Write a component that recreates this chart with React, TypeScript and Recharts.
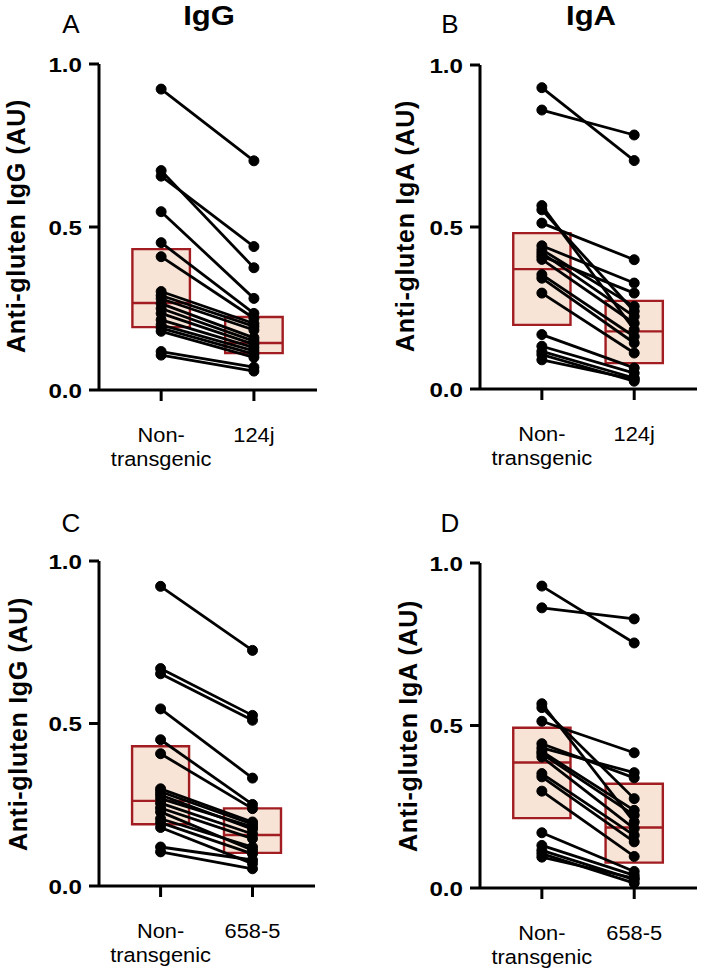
import React from 'react';
import { ComposedChart, Line, XAxis, YAxis, ReferenceArea, ReferenceLine } from 'recharts';

// category names
const topCategories = ['Non-transgenic', '124j'];
const bottomCategories = ['Non-transgenic', '658-5'];
const yTicks = [0, 0.5, 1.0];

// A: IgG, non-transgenic vs 124j (paired)
const iggNonTgA = [0.923, 0.673, 0.656, 0.547, 0.452, 0.409, 0.302, 0.29, 0.28, 0.265, 0.25, 0.235, 0.215, 0.2, 0.19, 0.18, 0.118, 0.107];
const igg124j = [0.703, 0.375, 0.44, 0.281, 0.235, 0.22, 0.204, 0.195, 0.184, 0.16, 0.15, 0.14, 0.13, 0.12, 0.11, 0.1, 0.07, 0.058];
// box: [q1, median, q3]
const iggNonTgBoxA = [0.193, 0.267, 0.432];
const igg124jBox = [0.113, 0.144, 0.224];

// B: IgA, non-transgenic vs 124j
const igaNonTgB = [0.93, 0.861, 0.566, 0.553, 0.512, 0.442, 0.43, 0.42, 0.41, 0.4, 0.353, 0.342, 0.296, 0.168, 0.132, 0.116, 0.106, 0.09];
const iga124j = [0.705, 0.784, 0.183, 0.24, 0.399, 0.327, 0.255, 0.224, 0.296, 0.203, 0.162, 0.142, 0.111, 0.065, 0.049, 0.034, 0.024, 0.03];
const igaNonTgBoxB = [0.198, 0.37, 0.481];
const iga124jBox = [0.08, 0.178, 0.272];

// C: IgG, non-transgenic vs 658-5
const iggNonTgC = [0.922, 0.669, 0.653, 0.545, 0.45, 0.407, 0.299, 0.29, 0.28, 0.269, 0.255, 0.24, 0.228, 0.207, 0.195, 0.18, 0.12, 0.105];
const igg6585 = [0.725, 0.525, 0.51, 0.332, 0.251, 0.238, 0.197, 0.19, 0.175, 0.182, 0.16, 0.146, 0.11, 0.12, 0.099, 0.069, 0.08, 0.053];
const iggNonTgBoxC = [0.19, 0.262, 0.43];
const igg6585Box = [0.102, 0.157, 0.239];

// D: IgA, non-transgenic vs 658-5
const igaNonTgD = [0.929, 0.862, 0.567, 0.555, 0.513, 0.444, 0.431, 0.42, 0.413, 0.403, 0.352, 0.342, 0.298, 0.17, 0.131, 0.116, 0.106, 0.095];
const iga6585 = [0.754, 0.828, 0.203, 0.275, 0.416, 0.339, 0.355, 0.239, 0.224, 0.183, 0.162, 0.142, 0.097, 0.051, 0.039, 0.026, 0.015, 0.03];
const igaNonTgBoxD = [0.215, 0.386, 0.493];
const iga6585Box = [0.078, 0.186, 0.321];

const FONT = '"Liberation Sans", Arial, Helvetica, sans-serif';
const BOX_STROKE = '#a11d21';
const BOX_FILL = '#f7e4d7';
const HALF_BOX = 0.31;

const YTick = (props: any) => {
  const { x, y, payload } = props;
  return (
    <text
      transform={`translate(${x},${y + 7.5}) scale(1.15,1)`}
      textAnchor="end"
      fontFamily={FONT}
      fontWeight="bold"
      fontSize={21}
      fill="#000"
    >
      {Number(payload.value).toFixed(1)}
    </text>
  );
};

const makeXTick = (cats: string[]) => (props: any) => {
  const { x, y, payload } = props;
  const name = cats[payload.value - 1] || '';
  const lines = name === 'Non-transgenic' ? ['Non-', 'transgenic'] : [name];
  return (
    <g transform={`translate(${x},${y}) scale(1.12,1)`}>
      {lines.map((t, i) => (
        <text key={i} x={0} y={39 + i * 24} textAnchor="middle" fontFamily={FONT} fontSize={19.5} fill="#000">
          {t}
        </text>
      ))}
    </g>
  );
};

type PanelProps = {
  cats: string[];
  before: number[];
  after: number[];
  boxBefore: number[];
  boxAfter: number[];
  margin: { top: number; right: number; left: number; bottom: number };
  yWidth: number;
};

const Panel = ({ cats, before, after, boxBefore, boxAfter, margin, yWidth }: PanelProps) => {
  const boxes = [boxBefore, boxAfter];
  return (
    <ComposedChart width={354} height={488} margin={margin}>
      <XAxis
        type="number"
        dataKey="x"
        domain={[0.33, 2.68]}
        ticks={[1, 2]}
        allowDataOverflow
        axisLine={{ stroke: '#000', strokeWidth: 3 }}
        tickLine={{ stroke: '#000', strokeWidth: 3 }}
        tickSize={11}
        height={80}
        tick={makeXTick(cats)}
        interval={0}
      />
      <YAxis
        type="number"
        domain={[0, 1]}
        ticks={yTicks}
        width={yWidth}
        axisLine={{ stroke: '#000', strokeWidth: 3 }}
        tickLine={{ stroke: '#000', strokeWidth: 3 }}
        tickSize={10}
        tickMargin={7}
        tick={<YTick />}
        interval={0}
      />
      {boxes.map((b, i) => (
        <ReferenceArea
          key={`box${i}`}
          x1={i + 1 - HALF_BOX}
          x2={i + 1 + HALF_BOX}
          y1={b[0]}
          y2={b[2]}
          fill={BOX_FILL}
          fillOpacity={1}
          stroke={BOX_STROKE}
          strokeWidth={2.4}
          ifOverflow="visible"
        />
      ))}
      {boxes.map((b, i) => (
        <ReferenceLine
          key={`med${i}`}
          segment={[
            { x: i + 1 - HALF_BOX, y: b[1] },
            { x: i + 1 + HALF_BOX, y: b[1] },
          ]}
          stroke={BOX_STROKE}
          strokeWidth={2.4}
          ifOverflow="visible"
        />
      ))}
      {before.map((v, i) => (
        <Line
          key={`pair${i}`}
          data={[
            { x: 1, y: v },
            { x: 2, y: after[i] },
          ]}
          dataKey="y"
          type="linear"
          stroke="#000"
          strokeWidth={2.8}
          dot={{ r: 5, fill: '#000', stroke: '#000', strokeWidth: 1 }}
          activeDot={false}
          isAnimationActive={false}
        />
      ))}
    </ComposedChart>
  );
};

const labelStyle = { fontFamily: FONT, fill: '#000' } as const;

export default function App() {
  return (
    <div style={{ position: 'absolute', left: 0, top: 0, width: 708, height: 976, background: '#fff' }}>
      <div style={{ position: 'absolute', left: 0, top: 0 }}>
        <Panel
          cats={topCategories}
          before={iggNonTgA}
          after={igg124j}
          boxBefore={iggNonTgBoxA}
          boxAfter={igg124jBox}
          margin={{ top: 64, right: 37, left: 0, bottom: 18 }}
          yWidth={99}
        />
      </div>
      <div style={{ position: 'absolute', left: 354, top: 0 }}>
        <Panel
          cats={topCategories}
          before={igaNonTgB}
          after={iga124j}
          boxBefore={igaNonTgBoxB}
          boxAfter={iga124jBox}
          margin={{ top: 65, right: 11, left: 0, bottom: 19 }}
          yWidth={126}
        />
      </div>
      <div style={{ position: 'absolute', left: 0, top: 488 }}>
        <Panel
          cats={bottomCategories}
          before={iggNonTgC}
          after={igg6585}
          boxBefore={iggNonTgBoxC}
          boxAfter={igg6585Box}
          margin={{ top: 73, right: 39, left: 0, bottom: 10 }}
          yWidth={99}
        />
      </div>
      <div style={{ position: 'absolute', left: 354, top: 488 }}>
        <Panel
          cats={bottomCategories}
          before={igaNonTgD}
          after={iga6585}
          boxBefore={igaNonTgBoxD}
          boxAfter={iga6585Box}
          margin={{ top: 75, right: 11, left: 0, bottom: 8 }}
          yWidth={126}
        />
      </div>
      <svg width={708} height={976} style={{ position: 'absolute', left: 0, top: 0, pointerEvents: 'none' }}>
        <text x={71} y={33} textAnchor="middle" fontSize={26} {...labelStyle}>A</text>
        <text x={450} y={33} textAnchor="middle" fontSize={26} {...labelStyle}>B</text>
        <text x={71} y={532} textAnchor="middle" fontSize={26} {...labelStyle}>C</text>
        <text x={450} y={532} textAnchor="middle" fontSize={26} {...labelStyle}>D</text>
        <text transform="translate(209,25) scale(1.15,1)" textAnchor="middle" fontSize={27} fontWeight="bold" {...labelStyle}>IgG</text>
        <text transform="translate(591,25) scale(1.15,1)" textAnchor="middle" fontSize={27} fontWeight="bold" {...labelStyle}>IgA</text>
        <text transform="translate(25,226) rotate(-90)" textAnchor="middle" fontSize={25} fontWeight="bold" letterSpacing={0.7} {...labelStyle}>Anti-gluten IgG (AU)</text>
        <text transform="translate(414,226) rotate(-90)" textAnchor="middle" fontSize={25} fontWeight="bold" letterSpacing={0.7} {...labelStyle}>Anti-gluten IgA (AU)</text>
        <text transform="translate(27,724) rotate(-90)" textAnchor="middle" fontSize={25} fontWeight="bold" letterSpacing={0.7} {...labelStyle}>Anti-gluten IgG (AU)</text>
        <text transform="translate(417,726) rotate(-90)" textAnchor="middle" fontSize={25} fontWeight="bold" letterSpacing={0.7} {...labelStyle}>Anti-gluten IgA (AU)</text>
      </svg>
    </div>
  );
}
